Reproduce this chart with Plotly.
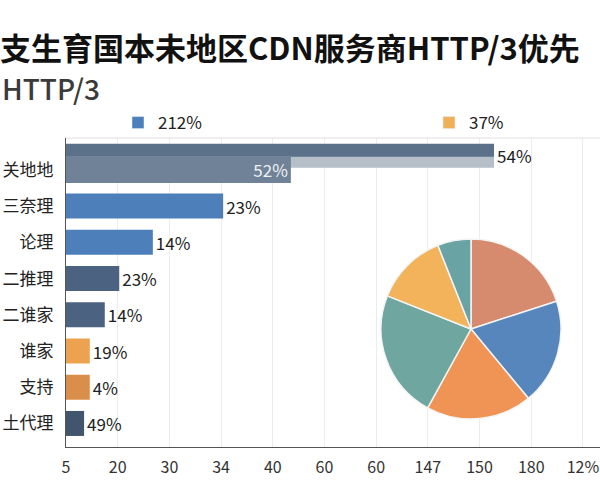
import plotly.graph_objects as go

# ---------------- data ----------------
categories = ["关地地", "三奈理", "论理", "二推理", "二谁家", "谁家", "支持", "土代理"]
bar_values = [4.35, 3.04, 1.68, 1.03, 0.75, 0.46, 0.46, 0.35]
bar_labels = ["52%", "23%", "14%", "23%", "14%", "19%", "4%", "49%"]
top_value = 8.28
top_label = "54%"
x_tick_labels = ["5", "20", "30", "34", "40", "60", "60", "147", "150", "180", "12%"]
pie_values = [20, 19, 19, 23, 13, 6]
legend_names = ["212%", "37%"]
title_text = "支生育国本未地区CDN服务商HTTP/3优先"
subtitle_text = "HTTP/3"

# ---------------- styles ----------------
FONT = "Noto Sans CJK SC"
bar_colors = ["#6f8298", "#4d7fba", "#4d7fba", "#4b6281", "#4b6281", "#eca24f", "#d98f4a", "#42556f"]
pie_colors = ["#d68a6e", "#5786bd", "#ef9455", "#6fa6a0", "#f2b35b", "#6aa3a4"]
legend_colors = ["#4d7fba", "#f0b05a"]

L, R, T, B = 66, 0, 138, 53
W, H = 600, 500
pw, ph = W - L - R, H - T - B

fig = go.Figure()

pos = list(range(len(categories)))

# top row: light background bar (with outside label) and dark thin bar
fig.add_trace(go.Bar(
    x=[top_value], y=[0], orientation="h", width=0.66, offset=-0.717,
    marker=dict(color="#b6bec8", line=dict(width=0)),
    text=[top_label], textposition="outside", constraintext="none",
    textfont=dict(size=17, color="#222222", family=FONT),
    showlegend=False, hoverinfo="x+y",
))
fig.add_trace(go.Bar(
    x=[top_value], y=[0], orientation="h", width=0.359, offset=-0.718,
    marker=dict(color="#5b718a", line=dict(width=0)),
    showlegend=False, hoverinfo="x+y",
))
# first row mid bar (inside label)
fig.add_trace(go.Bar(
    x=bar_values[:1], y=pos[:1], orientation="h", width=0.72,
    marker=dict(color=bar_colors[0], line=dict(width=0)),
    text=bar_labels[:1], textposition="inside", insidetextanchor="end", constraintext="none",
    textfont=dict(size=17, color="#eef1f4", family=FONT),
    showlegend=False, hoverinfo="x+y",
))
# remaining bars
fig.add_trace(go.Bar(
    x=bar_values[1:], y=pos[1:], orientation="h", width=0.69,
    marker=dict(color=bar_colors[1:], line=dict(width=0)),
    text=bar_labels[1:], textposition="outside", constraintext="none",
    textfont=dict(size=17, color="#222222", family=FONT),
    showlegend=False, hoverinfo="x+y", cliponaxis=False,
))

# legend entries (two separate legends, spread apart)
for i, (name, col) in enumerate(zip(legend_names, legend_colors)):
    fig.add_trace(go.Bar(x=[None], y=[None], orientation="h", name=name,
                         marker=dict(color=col), showlegend=True,
                         legend="legend" if i == 0 else "legend2"))

# pie
fig.add_trace(go.Pie(
    values=pie_values, sort=False, direction="clockwise", rotation=0,
    marker=dict(colors=pie_colors, line=dict(color="#f4f4f4", width=1.5)),
    textinfo="none", showlegend=False,
    domain=dict(x=[(381 - L) / pw, (561 - L) / pw], y=[(H - B - 419) / ph, (H - B - 239) / ph]),
))

leg_common = dict(orientation="h", yanchor="middle", xanchor="left",
                  font=dict(size=17, color="#222222", family=FONT),
                  bgcolor="rgba(0,0,0,0)", itemclick=False)

fig.update_layout(
    width=W, height=H,
    margin=dict(l=L, r=R, t=T, b=B),
    paper_bgcolor="white", plot_bgcolor="white",
    barmode="overlay",
    font=dict(family=FONT, color="#222222"),
    legend=dict(x=(118 - L) / pw, y=(H - B - 123) / ph, **leg_common),
    legend2=dict(x=(429 - L) / pw, y=(H - B - 123) / ph, **leg_common),
    xaxis=dict(range=[0, 10.33], tickvals=list(range(len(x_tick_labels))), ticktext=x_tick_labels,
               showgrid=True, gridcolor="#ececec", gridwidth=1,
               showline=True, linecolor="#555555", linewidth=1.2,
               zeroline=False, ticks="", ticklabelstandoff=6,
               tickfont=dict(size=16, color="#333333", family=FONT)),
    yaxis=dict(range=[7.65, -0.88], tickvals=pos, ticktext=categories,
               showgrid=False, zeroline=False, showline=True, linecolor="#555555", linewidth=1.2,
               ticks="", ticklabelstandoff=8, tickfont=dict(size=17, color="#222222", family=FONT)),
    shapes=[dict(type="line", xref="paper", yref="paper", x0=0, x1=1, y0=1, y1=1,
                 line=dict(color="#e0e0e0", width=1))],
    annotations=[
        dict(text="<b>" + title_text + "</b>", xref="paper", yref="paper",
             x=(-2 - L) / pw, y=(H - B - 46) / ph, xanchor="left", yanchor="middle",
             showarrow=False, font=dict(size=31, color="#111111", family=FONT)),
        dict(text=subtitle_text, xref="paper", yref="paper",
             x=(0 - L) / pw, y=(H - B - 88) / ph, xanchor="left", yanchor="middle",
             showarrow=False, font=dict(size=28, color="#3a3a3a", family=FONT, weight=500)),
    ],
)

fig.write_html("out.html")
